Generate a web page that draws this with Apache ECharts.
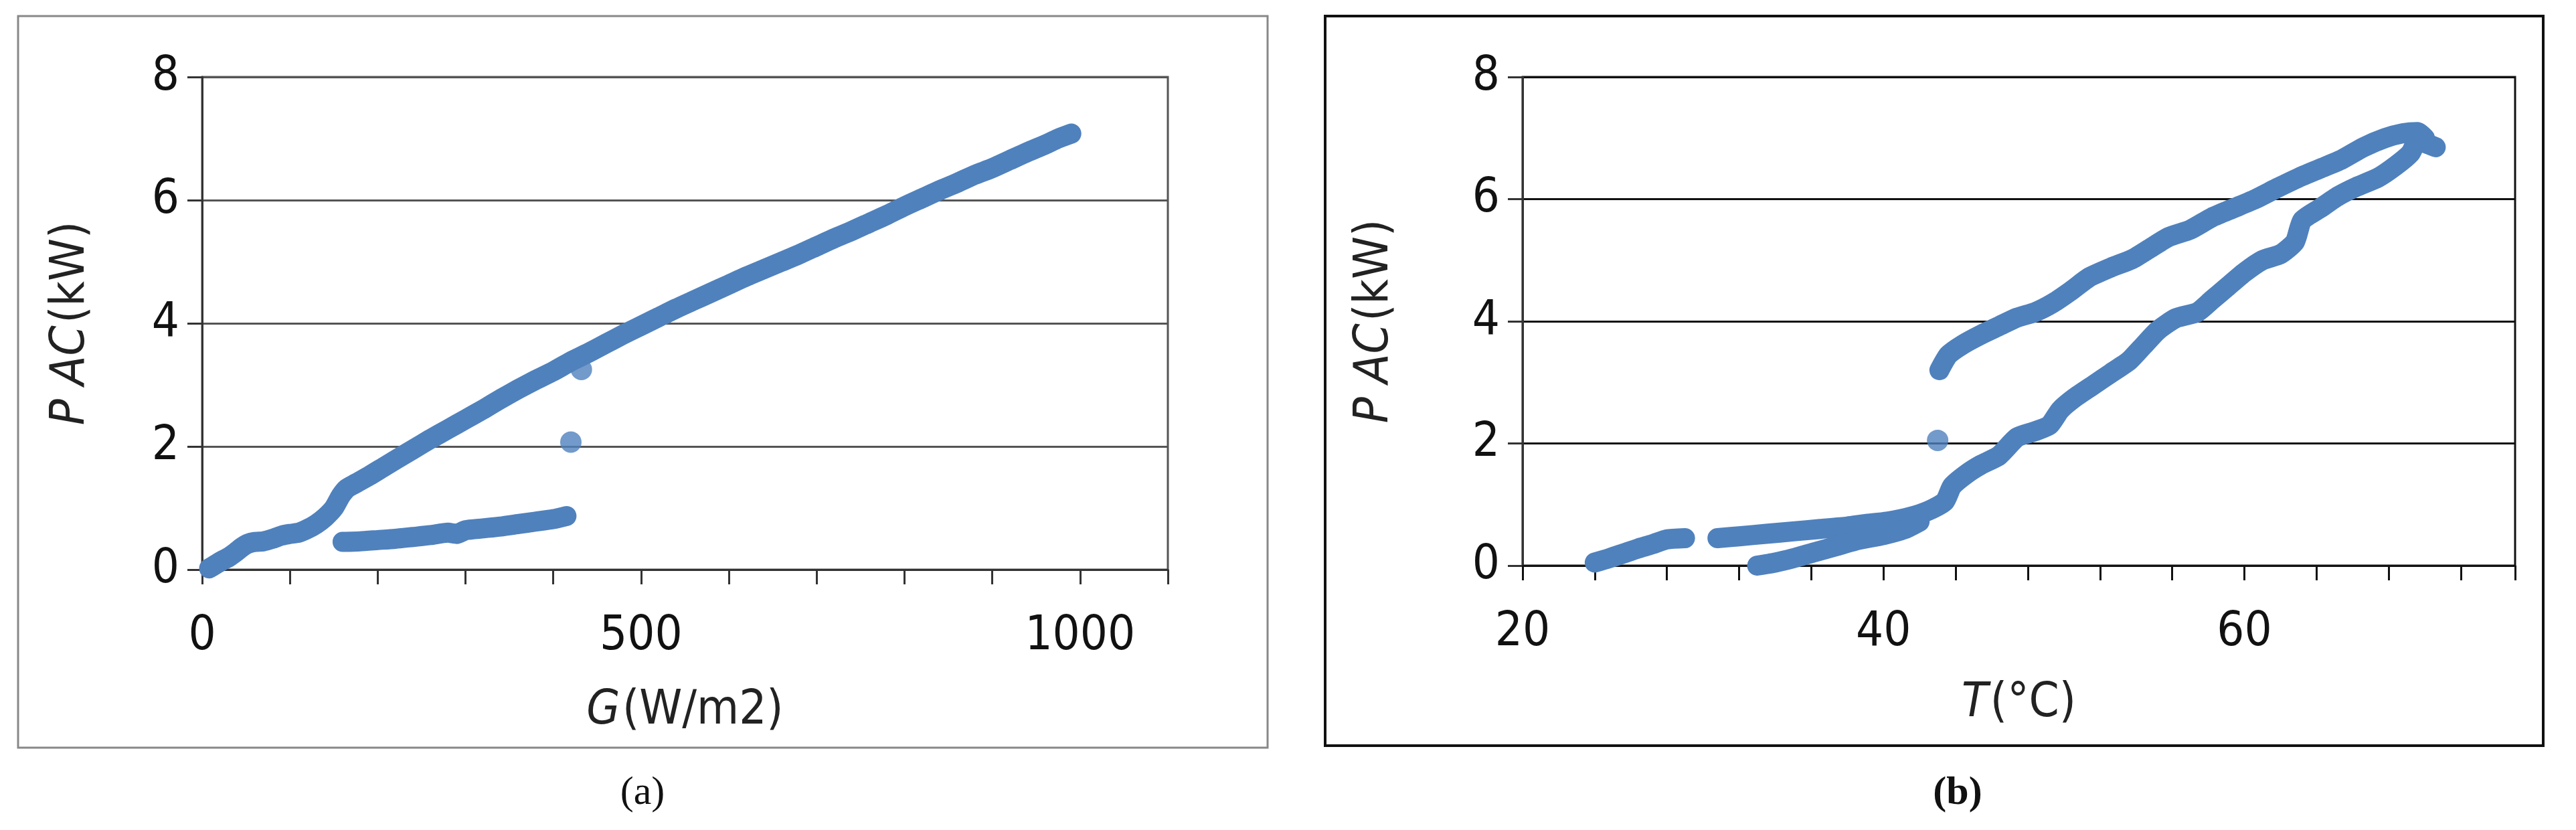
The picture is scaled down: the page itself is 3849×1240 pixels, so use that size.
<!DOCTYPE html>
<html><head><meta charset="utf-8">
<script src="https://cdn.jsdelivr.net/npm/echarts@6/dist/echarts.min.js"></script>
<style>html,body{margin:0;background:#fff}#c{width:3849px;height:1240px}</style>
</head><body><div id="c"></div>
<script>
// (a) P AC vs irradiance G
var gUpper = [[8,0.02],[15,0.08],[22,0.14],[30,0.2],[38,0.28],[45,0.36],[52,0.42],[60,0.45],[70,0.46],[80,0.5],[90,0.55],[100,0.58],[110,0.6],[120,0.66],[130,0.74],[140,0.85],[150,1.0],[158,1.2],[165,1.32],[175,1.4],[190,1.52],[205,1.65],[220,1.78],[240,1.95],[260,2.12],[280,2.28],[300,2.44],[320,2.6],[340,2.77],[360,2.93],[380,3.08],[400,3.22],[420,3.38],[440,3.52],[460,3.67],[480,3.82],[500,3.96],[520,4.1],[540,4.24],[560,4.37],[580,4.5],[600,4.63],[620,4.76],[640,4.88],[660,5.0],[680,5.12],[700,5.25],[720,5.38],[740,5.5],[760,5.63],[780,5.76],[800,5.9],[820,6.03],[840,6.16],[860,6.28],[880,6.41],[900,6.52],[920,6.65],[940,6.78],[960,6.9],[975,7.0],[990,7.08]];
var gLower = [[160,0.45],[180,0.46],[200,0.48],[220,0.5],[240,0.53],[260,0.56],[280,0.6],[290,0.58],[300,0.64],[320,0.67],[340,0.7],[360,0.74],[380,0.78],[400,0.82],[415,0.87]];
var gOutliers = [[420,2.07],[432,3.25]];

// (b) P AC vs temperature T
var tLowA = [[24,0.05],[24.8,0.12],[25.6,0.2],[26.4,0.28],[27.2,0.35],[28,0.43],[29,0.45]];
var tLowB = [[30.8,0.45],[32,0.48],[33.5,0.52],[35,0.56],[36.5,0.6],[38,0.64],[39,0.68],[40.2,0.72],[41.5,0.8],[42.5,0.9],[43.4,1.05],[43.8,1.3],[44.6,1.5],[45.4,1.65],[46.4,1.8],[47.4,2.1],[48.4,2.2],[49.2,2.3],[49.8,2.55],[50.6,2.75],[51.6,2.95],[52.6,3.15],[53.6,3.35],[54.4,3.6],[55.2,3.85],[56.2,4.05],[57.4,4.15],[58.2,4.35],[59,4.55],[60,4.8],[61,5.0],[62,5.1],[62.8,5.3],[63.2,5.65],[64.2,5.85],[65.2,6.05],[66.2,6.2],[67.4,6.35],[68.4,6.55],[69.2,6.75],[69.6,6.95],[70.6,6.85]];
var tLowC = [[33,0.0],[34,0.05],[35,0.12],[36.2,0.22],[37.4,0.32],[38.6,0.42],[40,0.5],[41.2,0.6],[42,0.72]];
var tUpper = [[43.1,3.2],[43.6,3.45],[44.4,3.62],[45.4,3.78],[46.4,3.92],[47.4,4.06],[48.4,4.15],[49.4,4.3],[50.4,4.5],[51.4,4.72],[52.6,4.88],[53.8,5.02],[54.8,5.2],[55.8,5.38],[57,5.5],[58.2,5.7],[59.4,5.85],[60.6,6.0],[61.8,6.18],[63,6.35],[64.2,6.5],[65.4,6.65],[66.6,6.85],[67.8,7.0],[68.8,7.08],[69.6,7.1],[70,7.0]];
var tOutliers = [[43,2.05]];

var blue = '#4f81bd';
var font = 'DejaVu Sans Condensed';
var fs = 72;

function line(data, xi) {
  return { type: 'line', xAxisIndex: xi, yAxisIndex: xi, data: data, symbol: 'none',
    lineStyle: { color: blue, width: 30, cap: 'round', join: 'round' }, smooth: 0.2, silent: true };
}
function dots(data, xi) {
  return { type: 'scatter', xAxisIndex: xi, yAxisIndex: xi, data: data, symbolSize: 32,
    itemStyle: { color: blue }, silent: true };
}
function rich() {
  return { rich: { i: { fontStyle: 'italic', fontSize: fs, fontFamily: font, color: '#222' },
                   n: { fontSize: fs, fontFamily: font, color: '#222' } } };
}
function yAx(gi, gap) {
  return { type: 'value', gridIndex: gi, min: 0, max: 8, interval: 2,
    name: '{i|P AC} {n|(kW)}', nameLocation: 'middle', nameGap: gap, nameRotate: 90,
    nameTextStyle: rich(),
    axisLine: { show: true, lineStyle: { color: '#333', width: 3 } },
    axisTick: { show: true, length: 22, lineStyle: { color: '#333', width: 3 } },
    axisLabel: { fontSize: fs, fontFamily: font, color: '#111', margin: 34 },
    splitLine: { lineStyle: { color: gi ? '#111' : '#555', width: 3 } } };
}

var option = {
  backgroundColor: '#fff',
  animation: false,
  grid: [
    { left: 302, top: 115, width: 1443, height: 736, show: true, borderColor: '#555', borderWidth: 3 },
    { left: 2275, top: 115, width: 1483, height: 730, show: true, borderColor: '#111', borderWidth: 3 }
  ],
  xAxis: [
    { type: 'value', gridIndex: 0, min: 0, max: 1100, interval: 100,
      name: '{i|G} {n|(W/m2)}', nameLocation: 'middle', nameGap: 175, nameTextStyle: rich(),
      axisLine: { onZero: false, lineStyle: { color: '#333', width: 3 } },
      axisTick: { length: 22, lineStyle: { color: '#333', width: 3 } },
      axisLabel: { fontSize: fs, fontFamily: font, color: '#111', margin: 64,
        formatter: function (v) { return v % 500 === 0 ? String(v) : ''; } },
      splitLine: { show: false } },
    { type: 'value', gridIndex: 1, min: 20, max: 75, interval: 20,
      name: '{i|T} {n|(°C)}', nameLocation: 'middle', nameGap: 170, nameTextStyle: rich(),
      axisLine: { onZero: false, lineStyle: { color: '#111', width: 3 } },
      axisTick: { length: 22, lineStyle: { color: '#111', width: 3 } },
      minorTick: { show: true, splitNumber: 5, length: 22, lineStyle: { color: '#111', width: 3 } },
      axisLabel: { fontSize: fs, fontFamily: font, color: '#111', margin: 64, showMaxLabel: false },
      splitLine: { show: false } }
  ],
  yAxis: [yAx(0, 160), yAx(1, 185)],
  series: [
    line(gUpper, 0), line(gLower, 0), dots(gOutliers, 0),
    line(tLowA, 1), line(tLowB, 1), line(tLowC, 1), line(tUpper, 1), dots(tOutliers, 1)
  ],
  graphic: [
    { type: 'rect', shape: { x: 27, y: 24, width: 1867, height: 1093 }, style: { fill: 'none', stroke: '#888', lineWidth: 3 } },
    { type: 'rect', shape: { x: 1980, y: 24, width: 1820, height: 1090 }, style: { fill: 'none', stroke: '#111', lineWidth: 4 } },
    { type: 'text', x: 960, y: 1185, style: { text: '(a)', font: '60px "Liberation Serif"', fill: '#111', align: 'center', verticalAlign: 'middle' } },
    { type: 'text', x: 2925, y: 1185, style: { text: '(b)', font: 'bold 60px "Liberation Serif"', fill: '#111', align: 'center', verticalAlign: 'middle' } }
  ]
};
echarts.init(document.getElementById('c')).setOption(option);
</script></body></html>
